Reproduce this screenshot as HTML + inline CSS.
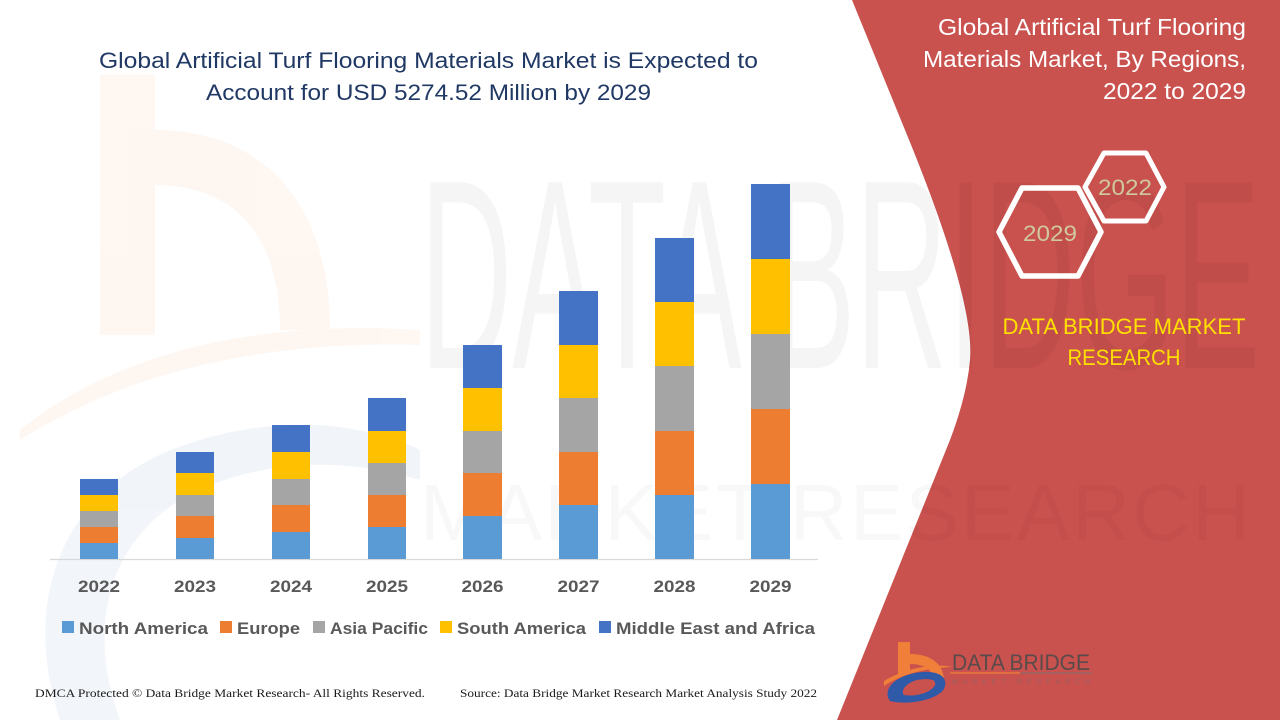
<!DOCTYPE html>
<html><head><meta charset="utf-8"><style>
html,body{margin:0;padding:0;background:#fff;}
svg{display:block;}
</style></head><body>
<svg width="1280" height="720" viewBox="0 0 1280 720" xmlns="http://www.w3.org/2000/svg">
<rect width="1280" height="720" fill="#ffffff"/>
<!-- faint left watermark b -->
<g opacity="0.07">
  <rect x="100" y="75" width="55" height="260" fill="#f08a4b"/>
  <path d="M155,130 C260,130 330,200 330,330 L280,330 C280,230 230,185 155,185 Z" fill="#f08a4b"/>
  <path d="M20,430 C120,350 260,320 420,330 L420,345 C270,340 130,370 20,440 Z" fill="#f08a4b"/>
  <path d="M60,720 C20,600 60,480 200,440 C300,410 380,430 420,450 L420,480 C340,455 250,460 180,500 C100,550 90,640 120,720 Z" fill="#4a6fb5"/>
</g>
<!-- red panel -->
<path d="M852,0 L905,130 Q975,300 970,360 Q967,395 950,440 L837,720 L1280,720 L1280,0 Z" fill="#c9514e"/>
<!-- faint DATA BRIDGE watermark -->
<text x="420" y="368" font-family="Liberation Sans, sans-serif" font-size="270" fill="#000" opacity="0.035" textLength="840" lengthAdjust="spacingAndGlyphs">DATA BRIDGE</text>
<text x="420" y="540" font-family="Liberation Sans, sans-serif" font-size="80" fill="#000" opacity="0.025" textLength="840" lengthAdjust="spacing" letter-spacing="10">MARKET RESEARCH</text>

<!-- title -->
<g font-family="Liberation Sans, sans-serif" font-size="22.5" fill="#203864" text-anchor="middle">
  <text x="428.5" y="68" textLength="659" lengthAdjust="spacingAndGlyphs">Global Artificial Turf Flooring Materials Market is Expected to</text>
  <text x="428.5" y="100" textLength="445" lengthAdjust="spacingAndGlyphs">Account for USD 5274.52 Million by 2029</text>
</g>

<!-- baseline -->
<line x1="50" y1="559.5" x2="818" y2="559.5" stroke="#d9d9d9" stroke-width="1.2"/>

<!-- bars -->
<g id="bars">
  <rect x="80" y="479" width="38" height="16" fill="#4472c4"/>
  <rect x="80" y="495" width="38" height="16" fill="#ffc000"/>
  <rect x="80" y="511" width="38" height="16" fill="#a5a5a5"/>
  <rect x="80" y="527" width="38" height="16" fill="#ed7d31"/>
  <rect x="80" y="543" width="38" height="16" fill="#5b9bd5"/>
  <rect x="176" y="452" width="38" height="21" fill="#4472c4"/>
  <rect x="176" y="473" width="38" height="22" fill="#ffc000"/>
  <rect x="176" y="495" width="38" height="21" fill="#a5a5a5"/>
  <rect x="176" y="516" width="38" height="22" fill="#ed7d31"/>
  <rect x="176" y="538" width="38" height="21" fill="#5b9bd5"/>
  <rect x="272" y="425" width="38" height="27" fill="#4472c4"/>
  <rect x="272" y="452" width="38" height="27" fill="#ffc000"/>
  <rect x="272" y="479" width="38" height="26" fill="#a5a5a5"/>
  <rect x="272" y="505" width="38" height="27" fill="#ed7d31"/>
  <rect x="272" y="532" width="38" height="27" fill="#5b9bd5"/>
  <rect x="368" y="398" width="38" height="33" fill="#4472c4"/>
  <rect x="368" y="431" width="38" height="32" fill="#ffc000"/>
  <rect x="368" y="463" width="38" height="32" fill="#a5a5a5"/>
  <rect x="368" y="495" width="38" height="32" fill="#ed7d31"/>
  <rect x="368" y="527" width="38" height="32" fill="#5b9bd5"/>
  <rect x="463" y="345" width="39" height="43" fill="#4472c4"/>
  <rect x="463" y="388" width="39" height="43" fill="#ffc000"/>
  <rect x="463" y="431" width="39" height="42" fill="#a5a5a5"/>
  <rect x="463" y="473" width="39" height="43" fill="#ed7d31"/>
  <rect x="463" y="516" width="39" height="43" fill="#5b9bd5"/>
  <rect x="559" y="291" width="39" height="54" fill="#4472c4"/>
  <rect x="559" y="345" width="39" height="53" fill="#ffc000"/>
  <rect x="559" y="398" width="39" height="54" fill="#a5a5a5"/>
  <rect x="559" y="452" width="39" height="53" fill="#ed7d31"/>
  <rect x="559" y="505" width="39" height="54" fill="#5b9bd5"/>
  <rect x="655" y="238" width="39" height="64" fill="#4472c4"/>
  <rect x="655" y="302" width="39" height="64" fill="#ffc000"/>
  <rect x="655" y="366" width="39" height="65" fill="#a5a5a5"/>
  <rect x="655" y="431" width="39" height="64" fill="#ed7d31"/>
  <rect x="655" y="495" width="39" height="64" fill="#5b9bd5"/>
  <rect x="751" y="184" width="39" height="75" fill="#4472c4"/>
  <rect x="751" y="259" width="39" height="75" fill="#ffc000"/>
  <rect x="751" y="334" width="39" height="75" fill="#a5a5a5"/>
  <rect x="751" y="409" width="39" height="75" fill="#ed7d31"/>
  <rect x="751" y="484" width="39" height="75" fill="#5b9bd5"/>
</g>

<!-- year labels -->
<g font-family="Liberation Sans, sans-serif" font-weight="bold" font-size="17" fill="#595959" text-anchor="middle">
  <text x="99" y="592" textLength="42" lengthAdjust="spacingAndGlyphs">2022</text>
  <text x="195" y="592" textLength="42" lengthAdjust="spacingAndGlyphs">2023</text>
  <text x="291" y="592" textLength="42" lengthAdjust="spacingAndGlyphs">2024</text>
  <text x="387" y="592" textLength="42" lengthAdjust="spacingAndGlyphs">2025</text>
  <text x="482.5" y="592" textLength="42" lengthAdjust="spacingAndGlyphs">2026</text>
  <text x="578.5" y="592" textLength="42" lengthAdjust="spacingAndGlyphs">2027</text>
  <text x="674.5" y="592" textLength="42" lengthAdjust="spacingAndGlyphs">2028</text>
  <text x="770.5" y="592" textLength="42" lengthAdjust="spacingAndGlyphs">2029</text>
</g>

<!-- legend -->
<g font-family="Liberation Sans, sans-serif" font-weight="bold" font-size="17" fill="#595959">
  <rect x="62" y="621" width="12" height="12" fill="#5b9bd5"/>
  <text x="79" y="634" textLength="129" lengthAdjust="spacingAndGlyphs">North America</text>
  <rect x="220" y="621" width="12" height="12" fill="#ed7d31"/>
  <text x="237" y="634" textLength="63" lengthAdjust="spacingAndGlyphs">Europe</text>
  <rect x="313" y="621" width="12" height="12" fill="#a5a5a5"/>
  <text x="330" y="634" textLength="98" lengthAdjust="spacingAndGlyphs">Asia Pacific</text>
  <rect x="440" y="621" width="12" height="12" fill="#ffc000"/>
  <text x="457" y="634" textLength="129" lengthAdjust="spacingAndGlyphs">South America</text>
  <rect x="599" y="621" width="12" height="12" fill="#4472c4"/>
  <text x="616" y="634" textLength="199" lengthAdjust="spacingAndGlyphs">Middle East and Africa</text>
</g>

<!-- footer -->
<g font-family="Liberation Serif, serif" font-size="12" fill="#1a1a1a">
  <text x="35" y="697" textLength="390" lengthAdjust="spacingAndGlyphs">DMCA Protected © Data Bridge Market Research- All Rights Reserved.</text>
  <text x="460" y="697" textLength="357" lengthAdjust="spacingAndGlyphs">Source: Data Bridge Market Research Market Analysis Study 2022</text>
</g>

<!-- right panel title -->
<g font-family="Liberation Sans, sans-serif" font-size="23.5" fill="#ffffff" text-anchor="end">
  <text x="1246" y="35" textLength="308" lengthAdjust="spacingAndGlyphs">Global Artificial Turf Flooring</text>
  <text x="1246" y="67" textLength="323" lengthAdjust="spacingAndGlyphs">Materials Market, By Regions,</text>
  <text x="1246" y="99" textLength="143" lengthAdjust="spacingAndGlyphs">2022 to 2029</text>
</g>

<!-- hexagons -->
<g fill="none" stroke="#ffffff" stroke-linejoin="round">
  <polygon points="1085,187 1104,153 1146,153 1164,187 1146,221 1104,221" stroke-width="5"/>
  <polygon points="999,232 1022,188 1078,188 1101,232 1078,276 1022,276" stroke-width="5.5"/>
</g>
<g font-family="Liberation Sans, sans-serif" font-size="22" fill="#cfc99d" text-anchor="middle">
  <text x="1125" y="195" textLength="54" lengthAdjust="spacingAndGlyphs">2022</text>
  <text x="1050" y="241" textLength="54" lengthAdjust="spacingAndGlyphs">2029</text>
</g>

<!-- DATA BRIDGE MARKET RESEARCH -->
<g font-family="Liberation Sans, sans-serif" font-size="22" fill="#ffe000" text-anchor="middle">
  <text x="1124" y="334" textLength="243" lengthAdjust="spacingAndGlyphs">DATA BRIDGE MARKET</text>
  <text x="1124" y="365" textLength="113" lengthAdjust="spacingAndGlyphs">RESEARCH</text>
</g>

<!-- logo -->
<g>
  <rect x="898" y="642" width="12" height="32" fill="#f07f3a"/>
  <path d="M910,654 C932,654 944,665 944,681 L933,681 C933,670 925,664 910,664 Z" fill="#f07f3a"/>
  <path d="M884,681 C905,668 935,663 952,667 C925,668 900,675 884,686 Z" fill="#f07f3a"/>
  <path d="M890,701 C882,690 894,677 915,673 C936,669 950,676 944,689 C938,699 910,706 890,701 Z M904,695 C915,697 931,693 935,685 C937,679 928,678 917,680 C906,683 900,691 904,695 Z" fill="#2f5aa8" fill-rule="evenodd"/>
  <text x="952" y="670" font-family="Liberation Sans, sans-serif" font-size="22" fill="#5a4a4a" textLength="138" lengthAdjust="spacingAndGlyphs">DATA BRIDGE</text>
  <line x1="950" y1="673" x2="1020" y2="673" stroke="#f07f3a" stroke-width="1.2"/>
  <line x1="1020" y1="673" x2="1092" y2="673" stroke="#8a6a6a" stroke-width="1.2"/>
  <text x="952" y="684" font-family="Liberation Sans, sans-serif" font-size="7" fill="#9a6060" textLength="138" lengthAdjust="spacing">MARKET RESEARCH</text>
</g>
</svg>
</body></html>
